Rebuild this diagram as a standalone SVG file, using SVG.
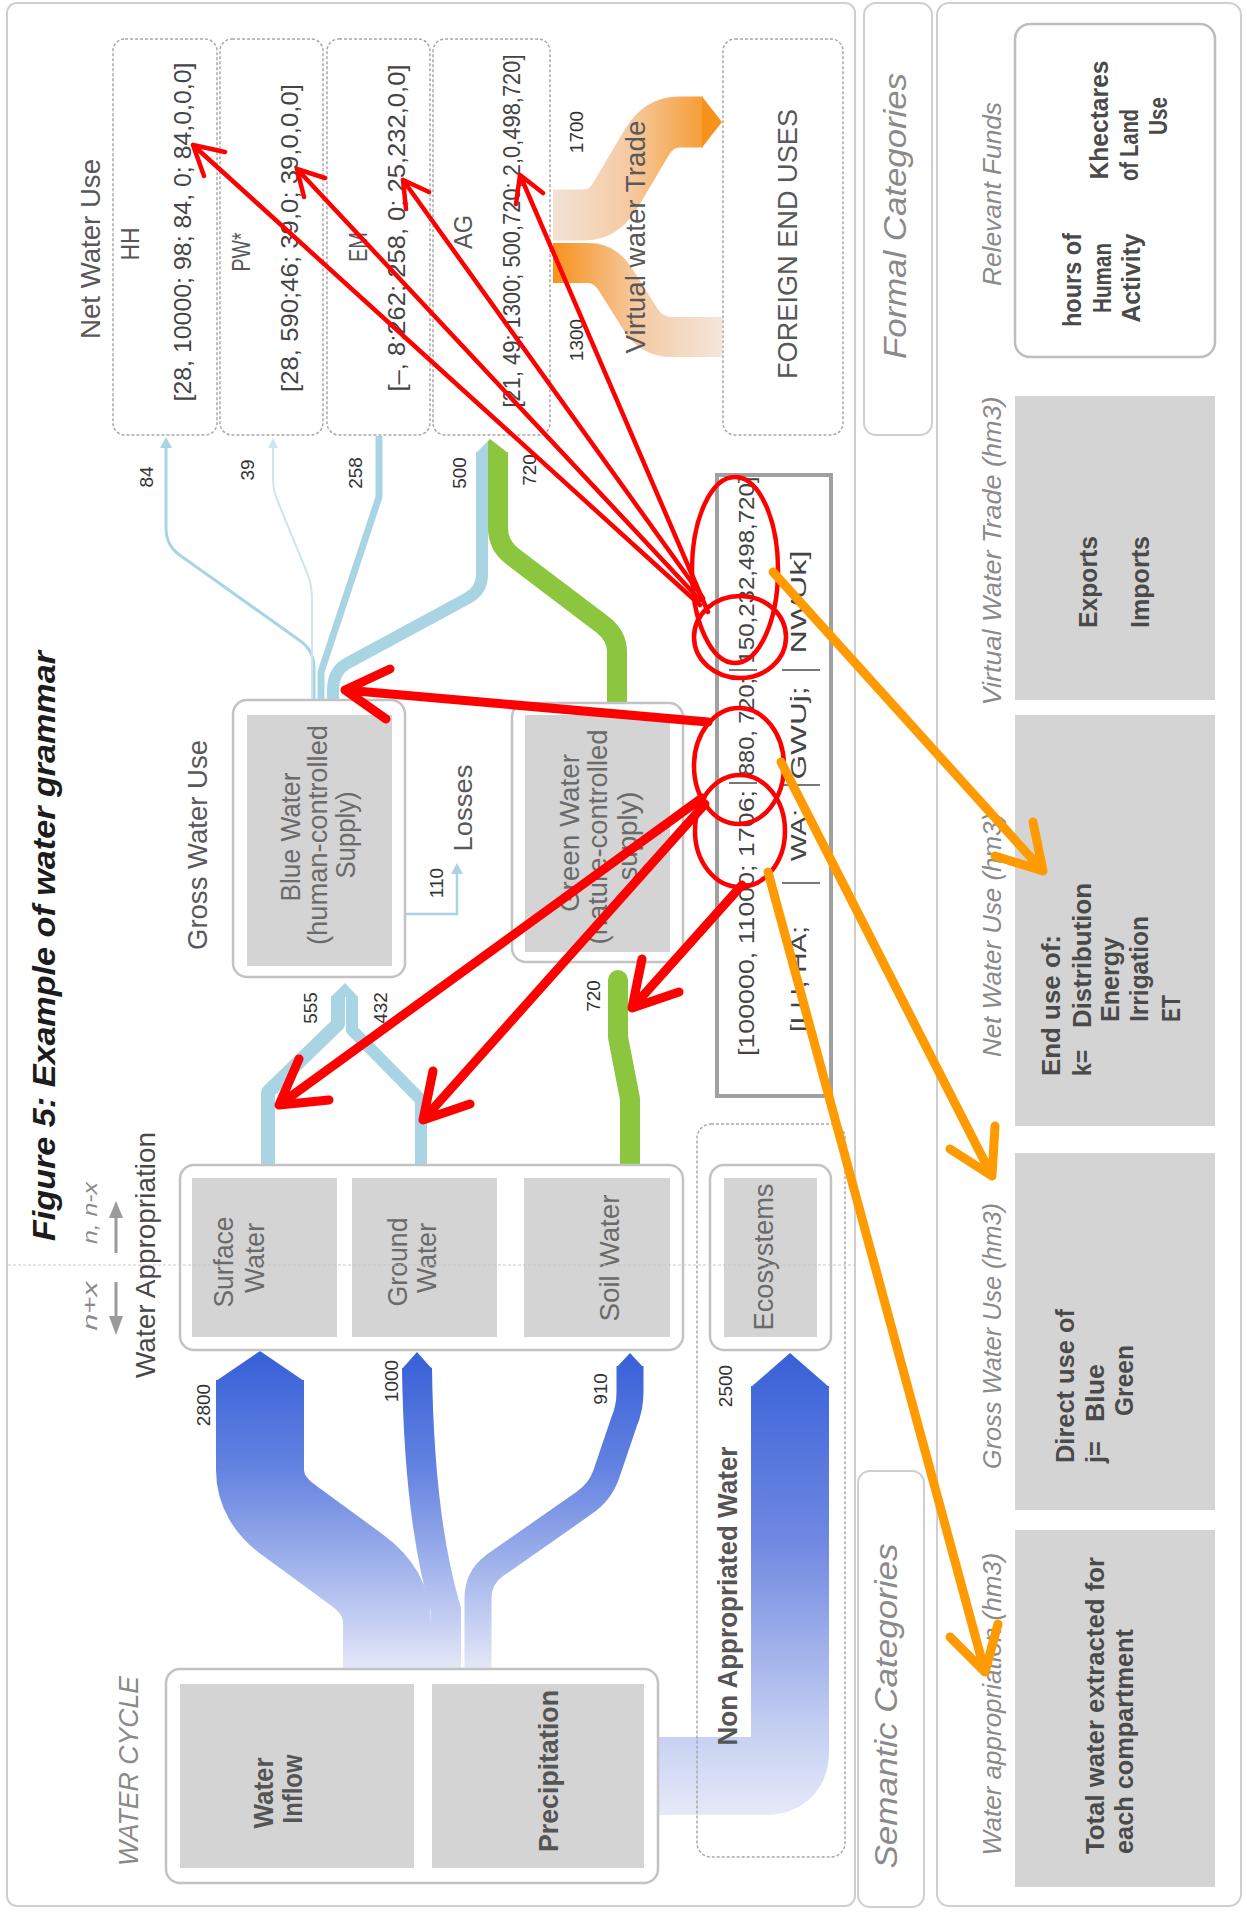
<svg xmlns="http://www.w3.org/2000/svg" width="1247" height="1912" viewBox="0 0 1247 1912">
<defs>
<style>
text{font-family:"Liberation Sans",Arial,Helvetica,sans-serif;}
.lb{fill:#585858}
.dt{fill:#444}
.nm{fill:#333;font-size:19px}
.nd{fill:#6a6a6a;font-size:27px}
.it{font-style:italic;fill:#8a8a8a}
.rt{fill:#4a4a4a;font-size:26px;font-weight:bold}
.bd{font-weight:bold;fill:#555}
.box{fill:#fff;stroke:#c3c3c3;stroke-width:2.5}
.dbox{fill:#fff;stroke:#a8a8a8;stroke-width:1.5;stroke-dasharray:3 2}
.in{fill:#d4d4d4}
.pan{fill:#fff;stroke:#cfcfcf;stroke-width:2}
.lbf{fill:none;stroke:#a9d4e4;stroke-linejoin:round}
.gf{fill:none;stroke:#8cc63f;stroke-linejoin:round}
.red{fill:none;stroke:#ff0000;stroke-linecap:round;stroke-linejoin:round}
.org{fill:none;stroke:#ff9a00;stroke-width:9;stroke-linecap:round;stroke-linejoin:round}
</style>
<linearGradient id="gb" gradientUnits="userSpaceOnUse" x1="0" y1="1360" x2="0" y2="1672">
<stop offset="0" stop-color="#3a62d8"/><stop offset="0.35" stop-color="#6483e1"/><stop offset="0.75" stop-color="#b3c1ef"/><stop offset="1" stop-color="#e6e9f8"/>
</linearGradient>
<linearGradient id="gb2" gradientUnits="userSpaceOnUse" x1="0" y1="1360" x2="0" y2="1815">
<stop offset="0" stop-color="#3a62d8"/><stop offset="0.4" stop-color="#7089e2"/><stop offset="0.8" stop-color="#c2cdf1"/><stop offset="1" stop-color="#e6e9f8"/>
</linearGradient>
<linearGradient id="go1" gradientUnits="userSpaceOnUse" x1="553" y1="0" x2="722" y2="0">
<stop offset="0" stop-color="#f3e2d6"/><stop offset="0.45" stop-color="#f5caa2"/><stop offset="1" stop-color="#f7921c"/>
</linearGradient>
<linearGradient id="go2" gradientUnits="userSpaceOnUse" x1="553" y1="0" x2="722" y2="0">
<stop offset="0" stop-color="#f7921c"/><stop offset="0.5" stop-color="#f5caa2"/><stop offset="1" stop-color="#f4e6dc"/>
</linearGradient>
</defs>
<rect width="1247" height="1912" fill="#fff"/>

<g id="panels">
<rect class="pan" x="7" y="3" width="848" height="1903" rx="10"/>
<rect class="pan" x="864" y="3" width="68" height="432" rx="12"/>
<rect class="pan" x="858" y="1471" width="66" height="436" rx="12"/>
<rect class="pan" x="937" y="3" width="304" height="1903" rx="12"/>
</g>

<g id="connectors">
<path class="lbf" d="M166 446 V528 Q166 546 181 556 L299 640 Q314 650 314 668 V702" stroke-width="3"/>
<polygon points="160,448 166,437 172,448" fill="#a9d4e4"/>
<path d="M273 446 V478 Q273 490 278 502 L308 575 Q312 586 312 600 V702" fill="none" stroke="#cde5ee" stroke-width="2"/>
<polygon points="268,448 273,438 278,448" fill="#cde5ee"/>
<path class="lbf" d="M379 436 V497 L321 672 V702" stroke-width="7"/>
<path class="lbf" d="M482 452 V575 Q482 590 468 598 L346 664 Q333 672 333 690 V702" stroke-width="12"/>
<path class="gf" d="M498 452 V528 Q498 545 512 556 L603 625 Q617 636 617 652 V704" stroke-width="20"/>
<polygon points="476,453 488,441 488,453" fill="#a9d4e4"/>
<polygon points="488,453 488,441 490,439 508,453" fill="#8cc63f"/>
<path d="M405 914 H457 V872" fill="none" stroke="#a9d4e4" stroke-width="2.5"/>
<polygon points="451,874 457,863 463,874" fill="#a9d4e4"/>
<path class="lbf" d="M268 1168 V1092 L338 1024 V996" stroke-width="14"/>
<path class="lbf" d="M421 1168 V1100 L352 1030 V996" stroke-width="12"/>
<polygon points="331,997 345,983 358,997" fill="#a9d4e4"/>
<path class="gf" d="M618 980 V1037 L630 1099 V1168" stroke-width="20"/>
<circle cx="618" cy="980" r="10" fill="#8cc63f"/>
<path d="M260 1380 V1470 Q260 1500 290 1521 L357 1570 Q387 1592 387 1622 V1672" fill="none" stroke="url(#gb)" stroke-width="88"/>
<polygon points="216,1381 260,1351 304,1381" fill="url(#gb)"/>
<path d="M417 1368 Q419 1520 446 1610 V1672" fill="none" stroke="url(#gb)" stroke-width="30"/>
<polygon points="402,1369 417,1352 432,1369" fill="url(#gb)"/>
<path d="M630 1366 V1392 Q630 1408 624 1422 L606 1475 Q600 1492 584 1503 L494 1566 Q478 1578 478 1598 V1672" fill="none" stroke="url(#gb)" stroke-width="27"/>
<polygon points="617,1367 630,1353 643,1367" fill="url(#gb)"/>
<path d="M650 1776 H765 Q790 1776 790 1751 V1386" fill="none" stroke="url(#gb2)" stroke-width="78"/>
<polygon points="751,1387 790,1353 829,1387" fill="url(#gb2)"/>
<path d="M553 215 H584 Q603 215 615 196 L647 142 Q659 122 680 122 H703" fill="none" stroke="url(#go1)" stroke-width="51"/>
<polygon points="702,96.5 722,122 702,147.5" fill="#f7921c"/>
<path d="M553 263 H588 Q606 263 617 282 L641 320 Q652 337 672 337 H722" fill="none" stroke="url(#go2)" stroke-width="40"/>
<path d="M116 1253 V1214" stroke="#9a9a9a" stroke-width="3"/>
<polygon points="109,1218 116,1201 123,1218" fill="#9a9a9a"/>
<path d="M116 1282 V1319" stroke="#9a9a9a" stroke-width="3"/>
<polygon points="109,1316 116,1335 123,1316" fill="#9a9a9a"/>
</g>

<g id="net-use-labels">
<text class="lb" font-size="28" text-anchor="middle" textLength="180" lengthAdjust="spacingAndGlyphs" transform="translate(100 249) rotate(-90)">Net Water Use</text>
<text class="nm" text-anchor="middle" transform="translate(153 477) rotate(-90)">84</text>
<text class="nm" text-anchor="middle" transform="translate(254 470) rotate(-90)">39</text>
<text class="nm" text-anchor="middle" transform="translate(362 473) rotate(-90)">258</text>
<text class="nm" text-anchor="middle" transform="translate(466 473) rotate(-90)">500</text>
<text class="nm" text-anchor="middle" transform="translate(536 470) rotate(-90)">720</text>
</g>

<g id="node-HH">
<rect class="dbox" x="113" y="39" width="104" height="396" rx="12"/>
<text class="lb" font-size="26" text-anchor="middle" textLength="33" lengthAdjust="spacingAndGlyphs" transform="translate(139 244) rotate(-90)">HH</text>
<text class="dt" font-size="24" text-anchor="middle" textLength="339" lengthAdjust="spacingAndGlyphs" transform="translate(191 232) rotate(-90)">[28, 10000; 98; 84, 0; 84,0,0,0]</text>
</g>
<g id="node-PW">
<rect class="dbox" x="220" y="39" width="103" height="396" rx="12"/>
<text class="lb" font-size="26" text-anchor="middle" textLength="39" lengthAdjust="spacingAndGlyphs" transform="translate(250 252) rotate(-90)">PW*</text>
<text class="dt" font-size="24" text-anchor="middle" textLength="308" lengthAdjust="spacingAndGlyphs" transform="translate(298 238) rotate(-90)">[28, 590;46; 39,0; 39,0,0,0]</text>
</g>
<g id="node-EM">
<rect class="dbox" x="327" y="39" width="103" height="396" rx="12"/>
<text class="lb" font-size="26" text-anchor="middle" textLength="30" lengthAdjust="spacingAndGlyphs" transform="translate(367 247) rotate(-90)">EM</text>
<text class="dt" font-size="24" text-anchor="middle" textLength="327" lengthAdjust="spacingAndGlyphs" transform="translate(405 228) rotate(-90)">[–, 8;262; 258, 0; 25,232,0,0]</text>
</g>
<g id="node-AG">
<rect class="dbox" x="433" y="39" width="117" height="396" rx="12"/>
<text class="lb" font-size="26" text-anchor="middle" textLength="34" lengthAdjust="spacingAndGlyphs" transform="translate(472 232) rotate(-90)">AG</text>
<text class="dt" font-size="24" text-anchor="middle" textLength="353" lengthAdjust="spacingAndGlyphs" transform="translate(520 231) rotate(-90)">[21, 49; 1300; 500,720; 2,0,498,720]</text>
</g>
<g id="node-foreign">
<rect class="dbox" x="723" y="39" width="120" height="396" rx="12"/>
<text class="lb" font-size="28" text-anchor="middle" textLength="270" lengthAdjust="spacingAndGlyphs" transform="translate(797 244) rotate(-90)">FOREIGN END USES</text>
</g>
<g id="virtual-trade-labels">
<text class="lb" font-size="28" text-anchor="middle" textLength="233" lengthAdjust="spacingAndGlyphs" transform="translate(645 237) rotate(-90)">Virtual water Trade</text>
<text class="nm" font-size="18" text-anchor="middle" transform="translate(583 132) rotate(-90)">1700</text>
<text class="nm" font-size="18" text-anchor="middle" transform="translate(583 340) rotate(-90)">1300</text>
</g>

<g id="title">
<text font-size="31" font-weight="bold" font-style="italic" fill="#1c1c1c" text-anchor="middle" textLength="590" lengthAdjust="spacingAndGlyphs" transform="translate(55 946) rotate(-90)">Figure 5: Example of water grammar</text>
</g>

<g id="gross-use-label">
<text class="lb" font-size="28" text-anchor="middle" textLength="210" lengthAdjust="spacingAndGlyphs" transform="translate(207 845) rotate(-90)">Gross Water Use</text>
<text class="nm" text-anchor="middle" transform="translate(317 1008) rotate(-90)">555</text>
<text class="nm" text-anchor="middle" transform="translate(387 1008) rotate(-90)">432</text>
<text class="nm" text-anchor="middle" transform="translate(600 996) rotate(-90)">720</text>
</g>

<g id="node-blue">
<rect class="box" x="233" y="700" width="172" height="277" rx="14"/>
<rect class="in" x="247" y="715" width="145" height="251"/>
<text class="nd" text-anchor="middle" textLength="129" lengthAdjust="spacingAndGlyphs" transform="translate(300 837) rotate(-90)">Blue Water</text>
<text class="nd" text-anchor="middle" textLength="220" lengthAdjust="spacingAndGlyphs" transform="translate(327 835) rotate(-90)">(human-controlled</text>
<text class="nd" text-anchor="middle" textLength="87" lengthAdjust="spacingAndGlyphs" transform="translate(355 835) rotate(-90)">Supply)</text>
</g>
<g id="node-losses">
<text class="lb" font-size="26" text-anchor="middle" textLength="87" lengthAdjust="spacingAndGlyphs" transform="translate(472 808) rotate(-90)">Losses</text>
<text class="nm" font-size="17" text-anchor="middle" transform="translate(443 883) rotate(-90)">110</text>
</g>
<g id="node-green">
<rect class="box" x="512" y="703" width="171" height="259" rx="14"/>
<rect class="in" x="525" y="715" width="145" height="237"/>
<text class="nd" text-anchor="middle" textLength="158" lengthAdjust="spacingAndGlyphs" transform="translate(579 833) rotate(-90)">Green Water</text>
<text class="nd" text-anchor="middle" textLength="215" lengthAdjust="spacingAndGlyphs" transform="translate(607 837) rotate(-90)">(nature-controlled</text>
<text class="nd" text-anchor="middle" textLength="89" lengthAdjust="spacingAndGlyphs" transform="translate(637 836) rotate(-90)">supply)</text>
</g>

<g id="node-formula">
<rect x="717" y="475" width="114" height="621" fill="#fff" stroke="#a0a0a0" stroke-width="4"/>
<text class="dt" font-size="22" text-anchor="middle" textLength="266" lengthAdjust="spacingAndGlyphs" transform="translate(754 923) rotate(-90)">[100000, 11000; 1706;</text>
<text class="dt" font-size="22" text-anchor="middle" textLength="98" lengthAdjust="spacingAndGlyphs" transform="translate(754 727) rotate(-90)">880, 720;</text>
<text class="dt" font-size="22" text-anchor="middle" textLength="187" lengthAdjust="spacingAndGlyphs" transform="translate(754 570) rotate(-90)">150,232,498,720]</text>
<text class="dt" font-size="22" text-anchor="middle" textLength="106" lengthAdjust="spacingAndGlyphs" transform="translate(806 979) rotate(-90)">[LU, HA;</text>
<text class="dt" font-size="22" text-anchor="middle" textLength="52" lengthAdjust="spacingAndGlyphs" transform="translate(806 835) rotate(-90)">WA;</text>
<text class="dt" font-size="22" text-anchor="middle" textLength="93" lengthAdjust="spacingAndGlyphs" transform="translate(806 733) rotate(-90)">GWUj;</text>
<text class="dt" font-size="22" text-anchor="middle" textLength="103" lengthAdjust="spacingAndGlyphs" transform="translate(806 602) rotate(-90)">NWUk]</text>
<path d="M729 783 H757 M729 670 H757 M782 883 H820 M782 785 H820 M782 670 H820" stroke="#777" stroke-width="2"/>
</g>

<g id="appropriation-labels">
<text fill="#484848" font-size="28" text-anchor="middle" textLength="246" lengthAdjust="spacingAndGlyphs" transform="translate(155 1255) rotate(-90)">Water Appropriation</text>
<text class="it" font-size="21" text-anchor="middle" textLength="62" lengthAdjust="spacingAndGlyphs" transform="translate(97 1213) rotate(-90)">n, n-x</text>
<text class="it" font-size="21" text-anchor="middle" textLength="49" lengthAdjust="spacingAndGlyphs" transform="translate(97 1306) rotate(-90)">n+x</text>
<text class="nm" text-anchor="middle" transform="translate(210 1405) rotate(-90)">2800</text>
<text class="nm" text-anchor="middle" transform="translate(398 1381) rotate(-90)">1000</text>
<text class="nm" text-anchor="middle" transform="translate(607 1389) rotate(-90)">910</text>
<text class="nm" text-anchor="middle" transform="translate(732 1386) rotate(-90)">2500</text>
</g>

<g id="node-nonappropriated">
<rect x="697" y="1124" width="148" height="733" rx="14" fill="none" stroke="#a8a8a8" stroke-width="1.5" stroke-dasharray="3 2"/>
<text class="bd" font-size="27" text-anchor="middle" textLength="299" lengthAdjust="spacingAndGlyphs" transform="translate(737 1596) rotate(-90)">Non Appropriated Water</text>
</g>

<g id="node-appropriation">
<rect class="box" x="180" y="1165" width="503" height="185" rx="14"/>
</g>
<g id="node-surface">
<rect class="in" x="192" y="1178" width="145" height="159"/>
<text class="nd" text-anchor="middle" textLength="91" lengthAdjust="spacingAndGlyphs" transform="translate(233 1262) rotate(-90)">Surface</text>
<text class="nd" text-anchor="middle" textLength="70" lengthAdjust="spacingAndGlyphs" transform="translate(264 1258) rotate(-90)">Water</text>
</g>
<g id="node-ground">
<rect class="in" x="352" y="1178" width="145" height="159"/>
<text class="nd" text-anchor="middle" textLength="89" lengthAdjust="spacingAndGlyphs" transform="translate(407 1262) rotate(-90)">Ground</text>
<text class="nd" text-anchor="middle" textLength="70" lengthAdjust="spacingAndGlyphs" transform="translate(436 1258) rotate(-90)">Water</text>
</g>
<g id="node-soil">
<rect class="in" x="524" y="1178" width="146" height="159"/>
<text class="nd" text-anchor="middle" textLength="127" lengthAdjust="spacingAndGlyphs" transform="translate(619 1258) rotate(-90)">Soil Water</text>
</g>
<g id="node-ecosystems">
<rect class="box" x="710" y="1165" width="121" height="185" rx="14"/>
<rect class="in" x="724" y="1178" width="93" height="159"/>
<text class="nd" text-anchor="middle" textLength="147" lengthAdjust="spacingAndGlyphs" transform="translate(773 1257) rotate(-90)">Ecosystems</text>
</g>

<g id="node-watercycle">
<text class="it" fill="#999" font-size="27" text-anchor="middle" textLength="190" lengthAdjust="spacingAndGlyphs" transform="translate(138 1771) rotate(-90)">WATER CYCLE</text>
<rect class="box" x="166" y="1669" width="492" height="214" rx="14"/>
</g>
<g id="node-inflow">
<rect class="in" x="180" y="1684" width="234" height="184"/>
<text class="bd" font-size="27" text-anchor="middle" textLength="71" lengthAdjust="spacingAndGlyphs" transform="translate(273 1793) rotate(-90)">Water</text>
<text class="bd" font-size="27" text-anchor="middle" textLength="69" lengthAdjust="spacingAndGlyphs" transform="translate(302 1789) rotate(-90)">Inflow</text>
</g>
<g id="node-precipitation">
<rect class="in" x="432" y="1684" width="212" height="184"/>
<text class="bd" font-size="27" text-anchor="middle" textLength="162" lengthAdjust="spacingAndGlyphs" transform="translate(558 1771) rotate(-90)">Precipitation</text>
</g>

<g id="divider">
<path d="M8 1265 H855" stroke="#c8c8c8" stroke-width="1" stroke-dasharray="3 2"/>
</g>

<g id="categories">
<text class="it" fill="#666" font-size="32" text-anchor="middle" textLength="286" lengthAdjust="spacingAndGlyphs" transform="translate(906 216) rotate(-90)">Formal Categories</text>
<text class="it" fill="#666" font-size="32" text-anchor="middle" textLength="325" lengthAdjust="spacingAndGlyphs" transform="translate(897 1706) rotate(-90)">Semantic Categories</text>
<text class="it" font-size="26" text-anchor="middle" textLength="184" lengthAdjust="spacingAndGlyphs" transform="translate(1001 194) rotate(-90)">Relevant Funds</text>
<text class="it" font-size="26" text-anchor="middle" textLength="309" lengthAdjust="spacingAndGlyphs" transform="translate(1001 551) rotate(-90)">Virtual Water Trade (hm3)</text>
<text class="it" font-size="26" text-anchor="middle" textLength="244" lengthAdjust="spacingAndGlyphs" transform="translate(1001 935) rotate(-90)">Net Water Use (hm3)</text>
<text class="it" font-size="26" text-anchor="middle" textLength="266" lengthAdjust="spacingAndGlyphs" transform="translate(1001 1336) rotate(-90)">Gross Water Use (hm3)</text>
<text class="it" font-size="26" text-anchor="middle" textLength="303" lengthAdjust="spacingAndGlyphs" transform="translate(1001 1704) rotate(-90)">Water appropriation (hm3)</text>
</g>

<g id="node-funds">
<rect x="1015" y="24" width="200" height="333" rx="15" fill="#fff" stroke="#bdbdbd" stroke-width="2.5"/>
<text class="rt" fill="#333" font-size="25" text-anchor="middle" textLength="94" lengthAdjust="spacingAndGlyphs" transform="translate(1081 280) rotate(-90)">hours of</text>
<text class="rt" fill="#333" font-size="25" text-anchor="middle" textLength="70" lengthAdjust="spacingAndGlyphs" transform="translate(1111 278) rotate(-90)">Human</text>
<text class="rt" fill="#333" font-size="25" text-anchor="middle" textLength="89" lengthAdjust="spacingAndGlyphs" transform="translate(1140 278) rotate(-90)">Activity</text>
<text class="rt" fill="#333" font-size="25" text-anchor="middle" textLength="119" lengthAdjust="spacingAndGlyphs" transform="translate(1108 120) rotate(-90)">Khectares</text>
<text class="rt" fill="#333" font-size="25" text-anchor="middle" textLength="72" lengthAdjust="spacingAndGlyphs" transform="translate(1138 145) rotate(-90)">of Land</text>
<text class="rt" fill="#333" font-size="25" text-anchor="middle" textLength="38" lengthAdjust="spacingAndGlyphs" transform="translate(1167 116) rotate(-90)">Use</text>
</g>
<g id="node-vwt">
<rect class="in" x="1015" y="396" width="200" height="304"/>
<text class="rt" text-anchor="middle" textLength="92" lengthAdjust="spacingAndGlyphs" transform="translate(1097 582) rotate(-90)">Exports</text>
<text class="rt" text-anchor="middle" textLength="92" lengthAdjust="spacingAndGlyphs" transform="translate(1149 582) rotate(-90)">Imports</text>
</g>
<g id="node-nwu">
<rect class="in" x="1015" y="715" width="200" height="411"/>
<text class="rt" textLength="141" lengthAdjust="spacingAndGlyphs" transform="translate(1060 1076) rotate(-90)">End use of:</text>
<text class="rt" textLength="26" lengthAdjust="spacingAndGlyphs" transform="translate(1091 1076) rotate(-90)">k=</text>
<text class="rt" textLength="145" lengthAdjust="spacingAndGlyphs" transform="translate(1091 1028) rotate(-90)">Distribution</text>
<text class="rt" textLength="85" lengthAdjust="spacingAndGlyphs" transform="translate(1119 1022) rotate(-90)">Energy</text>
<text class="rt" textLength="106" lengthAdjust="spacingAndGlyphs" transform="translate(1148 1022) rotate(-90)">Irrigation</text>
<text class="rt" textLength="27" lengthAdjust="spacingAndGlyphs" transform="translate(1180 1022) rotate(-90)">ET</text>
</g>
<g id="node-gwu">
<rect class="in" x="1015" y="1153" width="200" height="357"/>
<text class="rt" textLength="154" lengthAdjust="spacingAndGlyphs" transform="translate(1074 1463) rotate(-90)">Direct use of</text>
<text class="rt" textLength="22" lengthAdjust="spacingAndGlyphs" transform="translate(1104 1463) rotate(-90)">j=</text>
<text class="rt" textLength="58" lengthAdjust="spacingAndGlyphs" transform="translate(1104 1422) rotate(-90)">Blue</text>
<text class="rt" textLength="71" lengthAdjust="spacingAndGlyphs" transform="translate(1133 1416) rotate(-90)">Green</text>
</g>
<g id="node-wa">
<rect class="in" x="1015" y="1530" width="200" height="357"/>
<text class="rt" textLength="297" lengthAdjust="spacingAndGlyphs" transform="translate(1104 1854) rotate(-90)">Total water extracted for</text>
<text class="rt" textLength="225" lengthAdjust="spacingAndGlyphs" transform="translate(1133 1854) rotate(-90)">each compartment</text>
</g>

<g id="annotations">
<g class="red" stroke-width="4.5">
<ellipse cx="735" cy="570" rx="43" ry="93"/>
<ellipse cx="740" cy="637" rx="46" ry="41"/>
<ellipse cx="739" cy="766" rx="45" ry="58"/>
<ellipse cx="740" cy="831" rx="45" ry="56"/>
<path d="M700 605 L193 145 M204 176 L193 145 L225 152"/>
<path d="M700 600 L297 169 M304 197 L297 169 L325 178"/>
<path d="M703 598 L403 180 M406 209 L403 180 L429 192"/>
<path d="M708 612 L520 175 M516 204 L520 175 L543 193"/>
</g>
<g class="red" stroke-width="9">
<path d="M708 722 L345 690 M386 719 L345 690 L390 669"/>
<path d="M702 798 L279 1105 M329 1100 L279 1105 L299 1059"/>
<path d="M705 804 L423 1120 M470 1104 L423 1120 L433 1071"/>
<path d="M742 885 L632 1008 M679 992 L632 1008 L642 959"/>
</g>
<path class="org" d="M773 572 L1043 871 M1033 822 L1043 871 L995 856"/>
<path class="org" d="M781 762 L992 1176 M995 1126 L992 1176 L950 1149"/>
<path class="org" d="M768 872 L985 1672 M998 1624 L985 1672 L950 1637"/>
</g>
</svg>
